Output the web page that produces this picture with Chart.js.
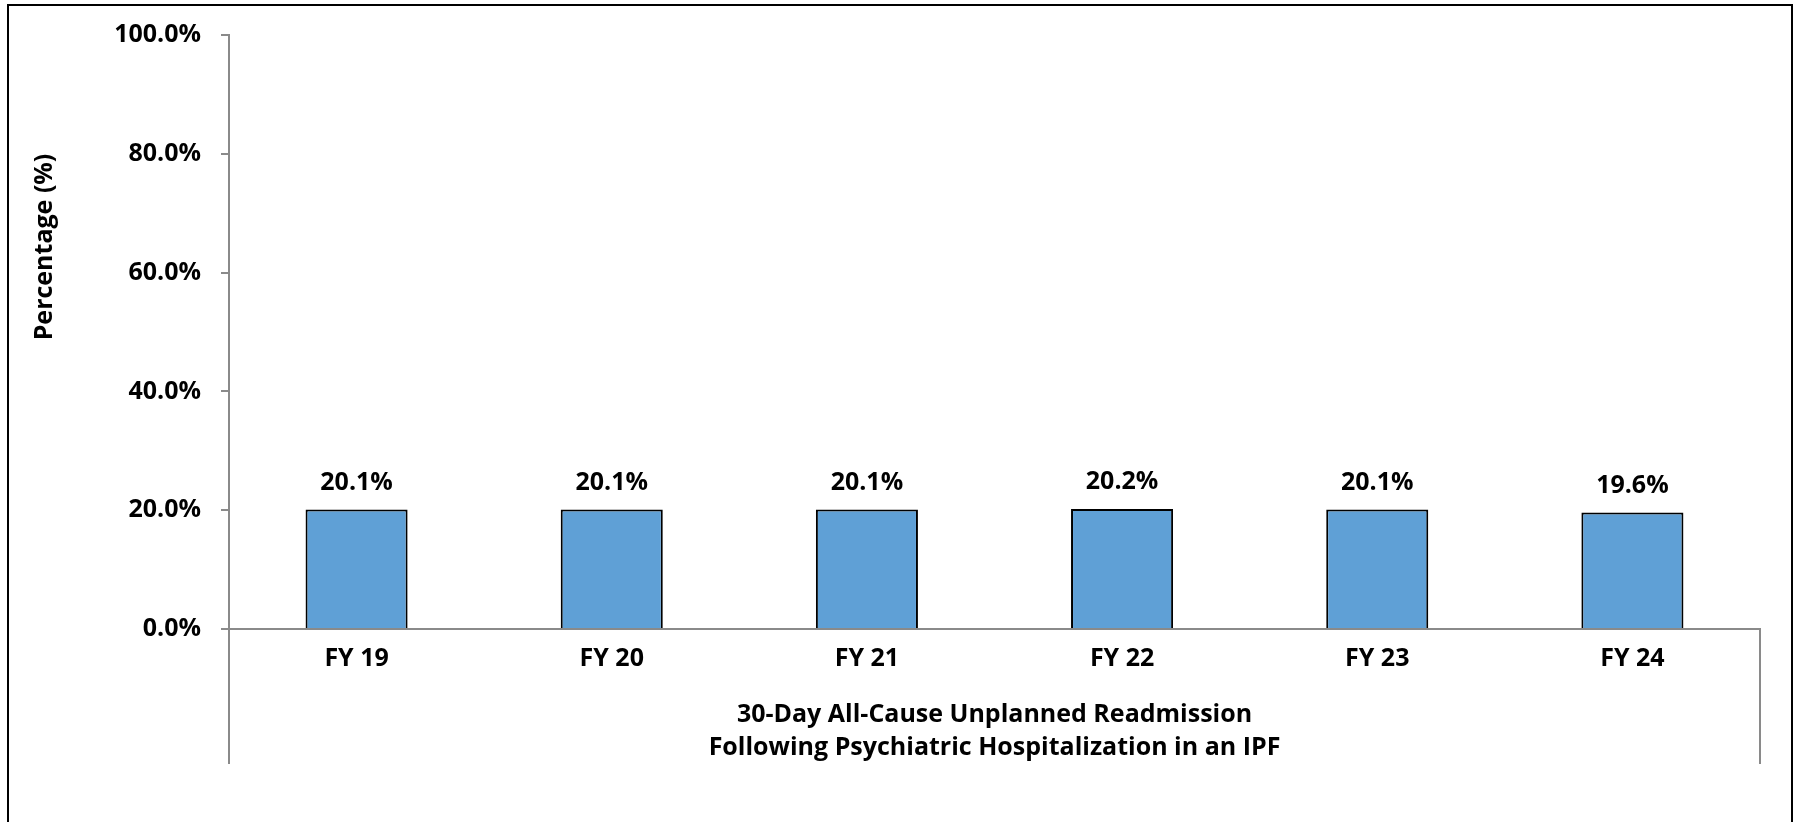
<!DOCTYPE html>
<html>
<head>
<meta charset="utf-8">
<title>30-Day All-Cause Unplanned Readmission</title>
<script src="https://cdn.jsdelivr.net/npm/chart.js@4.4.1/dist/chart.umd.min.js"></script>
<style>
  html, body { margin: 0; padding: 0; background: #fff; }
  canvas { display: block; }
</style>
</head>
<body>
<canvas id="readmit_chart" width="1801" height="822"></canvas>
<script>
// fiscal years along the bottom
const years = ['FY 19', 'FY 20', 'FY 21', 'FY 22', 'FY 23', 'FY 24'];
// readmission rate for each year, in percent
const rates = [20.1, 20.1, 20.1, 20.2, 20.1, 19.6];
// values shown on the y axis
const yTicks = [0, 20, 40, 60, 80, 100];
const xTitle = ['30-Day All-Cause Unplanned Readmission', 'Following Psychiatric Hospitalization in an IPF'];
const yTitle = 'Percentage (%)';

const FONT = "'Open Sans', 'Liberation Sans', sans-serif";
const FONT_SIZE = 25;
const axisGrey = '#8a8a8a';

function pct(v) {
  return Number(v).toFixed(1) + '%';
}

// white page with the black frame round it (no bottom edge, as in the original)
const framePlugin = {
  id: 'frame',
  beforeDraw(chart) {
    const ctx = chart.ctx;
    ctx.save();
    ctx.fillStyle = '#fff';
    ctx.fillRect(0, 0, chart.width, chart.height);
    ctx.strokeStyle = '#000';
    ctx.lineWidth = 2;
    ctx.beginPath();
    ctx.moveTo(8, chart.height);
    ctx.lineTo(8, 5);
    ctx.lineTo(chart.width - 9, 5);
    ctx.lineTo(chart.width - 9, chart.height);
    ctx.stroke();
    ctx.restore();
  }
};

// value above each bar
const valueLabels = {
  id: 'valueLabels',
  afterDatasetsDraw(chart) {
    const ctx = chart.ctx;
    const meta = chart.getDatasetMeta(0);
    ctx.save();
    ctx.font = 'bold ' + FONT_SIZE + 'px ' + FONT;
    ctx.fillStyle = '#000';
    ctx.textAlign = 'center';
    ctx.textBaseline = 'middle';
    meta.data.forEach(function (bar, i) {
      ctx.fillText(pct(rates[i]), bar.x, bar.y - 27);
    });
    ctx.restore();
  }
};

// y title sits above the middle of the axis, and the axis ends run down past the labels
const axisExtras = {
  id: 'axisExtras',
  afterDraw(chart) {
    const ctx = chart.ctx;
    const area = chart.chartArea;
    const x = chart.scales.x;
    ctx.save();
    ctx.strokeStyle = axisGrey;
    ctx.lineWidth = 2;
    ctx.beginPath();
    ctx.moveTo(x.left, area.bottom);
    ctx.lineTo(x.left, area.bottom + 135);
    ctx.moveTo(x.right, area.bottom);
    ctx.lineTo(x.right, area.bottom + 135);
    ctx.stroke();

    ctx.translate(45, (area.top + area.bottom) / 2 - 85);
    ctx.rotate(-Math.PI / 2);
    ctx.font = 'bold ' + FONT_SIZE + 'px ' + FONT;
    ctx.fillStyle = '#000';
    ctx.textAlign = 'center';
    ctx.textBaseline = 'middle';
    ctx.fillText(yTitle, 0, 0);
    ctx.restore();
  }
};

const data = {
  labels: years,
  datasets: [{
    label: 'Readmission rate',
    data: rates,
    backgroundColor: '#5fa0d6',
    borderColor: '#000',
    borderWidth: 2,
    barPercentage: 0.4,
    categoryPercentage: 1.0
  }]
};

const config = {
  type: 'bar',
  data: data,
  options: {
    responsive: false,
    animation: false,
    layout: {
      padding: { top: 35, right: 41, bottom: 0, left: 0 }
    },
    plugins: {
      legend: { display: false },
      tooltip: { enabled: false }
    },
    scales: {
      x: {
        offset: true,
        grid: { display: false, drawTicks: false },
        border: { display: true, color: axisGrey, width: 2, z: 1 },
        ticks: {
          color: '#000',
          padding: 15,
          maxRotation: 0,
          autoSkip: false,
          font: { family: FONT, size: FONT_SIZE, weight: 'bold' }
        },
        title: {
          display: true,
          text: xTitle,
          color: '#000',
          font: { family: FONT, size: FONT_SIZE, weight: 'bold', lineHeight: 1.3 },
          padding: { top: 0, bottom: 58 }
        },
        afterFit: function (scale) { scale.height = 193; }
      },
      y: {
        min: yTicks[0],
        max: yTicks[yTicks.length - 1],
        ticks: {
          stepSize: yTicks[1] - yTicks[0],
          callback: function (v) { return pct(v); },
          color: '#000',
          padding: 20,
          font: { family: FONT, size: FONT_SIZE, weight: 'bold' }
        },
        grid: {
          drawOnChartArea: false,
          drawTicks: true,
          tickLength: 8,
          color: axisGrey,
          lineWidth: 2
        },
        border: { display: true, color: axisGrey, width: 2 },
        afterFit: function (scale) { scale.width = 229; }
      }
    }
  },
  plugins: [framePlugin, valueLabels, axisExtras]
};

var readmitChart = new Chart(
  document.getElementById('readmit_chart'),
  config
);
</script>
</body>
</html>
